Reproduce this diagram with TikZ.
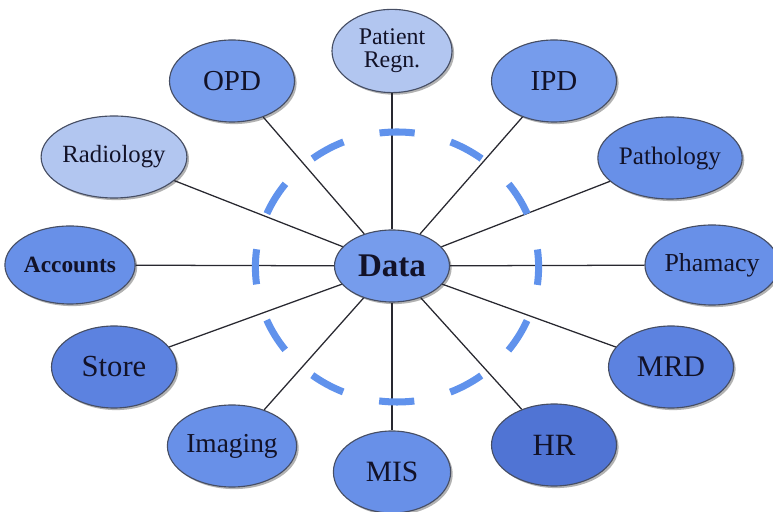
\documentclass[tikz,border=0pt]{standalone}
\usepackage{fontspec}
\setmainfont{Liberation Serif}
\usepackage{tikz}
\usetikzlibrary{
    shapes.geometric,
    shadows
}
\usepackage{xcolor}
\definecolor{lightblue}{RGB}{178,198,240}
\definecolor{midblue}{RGB}{118,156,236}
\definecolor{tintblue}{RGB}{104,144,232}
\definecolor{deepblue}{RGB}{92,130,224}
\definecolor{darkblue}{RGB}{80,116,212}
\definecolor{ringblue}{RGB}{96,146,236}
\definecolor{edgegray}{RGB}{70,78,100}
\definecolor{inkgray}{RGB}{40,40,48}
\definecolor{textnavy}{RGB}{18,18,40}

\begin{document}
\begin{tikzpicture}[
    x=1cm, y=1cm,
    dept/.style={
        ellipse, draw=edgegray, line width=0.8pt, inner sep=0pt,
        minimum width=3.125cm, minimum height=2.05cm,
        align=center, text=textnavy,
        drop shadow={shadow xshift=1.5pt, shadow yshift=-1.5pt, opacity=0.3, fill=black}
    },
    link/.style={line width=0.9pt, inkgray},
    ring/.style={ringblue, line width=5pt, dash pattern=on 0.88cm off 0.93cm, dash phase=0.44cm}
]
\useasboundingbox (0,0) rectangle (19.325,12.8);

% Hub
\node[dept, fill=midblue, minimum width=2.875cm, minimum height=1.8cm,
      font=\fontsize{23.5}{25}\selectfont\bfseries] (data) at (9.80, 6.15) {Data};

% Departments - clockwise from the top
\node[dept, fill=lightblue, minimum width=3.0cm, minimum height=2.08cm,
      font=\fontsize{17}{16.5}\selectfont] (patient) at (9.80, 11.525) {Patient\\Regn.};
\node[dept, fill=midblue, font=\fontsize{20.6}{22}\selectfont]   (ipd)       at (13.85, 10.775) {IPD};
\node[dept, fill=tintblue, font=\fontsize{17.9}{19}\selectfont]  (pathology) at (16.75, 8.85)   {Pathology};
\node[dept, fill=tintblue, minimum width=2.95cm, minimum height=2.0cm,
      font=\fontsize{18.4}{19}\selectfont] (pharmacy) at (17.80, 6.175) {Phamacy};
\node[dept, fill=deepblue, font=\fontsize{21.3}{22}\selectfont]  (mrd)       at (16.775, 3.625) {MRD};
\node[dept, fill=darkblue, font=\fontsize{22}{23}\selectfont]    (hr)        at (13.85, 1.675)  {HR};
\node[dept, fill=tintblue, minimum width=2.93cm,
      font=\fontsize{21}{22}\selectfont]   (mis)       at (9.80, 1.0)     {MIS};
\node[dept, fill=tintblue, font=\fontsize{19.5}{20}\selectfont]  (imaging)   at (5.80, 1.65)    {Imaging};
\node[dept, fill=deepblue, font=\fontsize{21.8}{22}\selectfont]  (store)     at (2.85, 3.625)   {Store};
\node[dept, fill=tintblue, minimum height=1.95cm,
      font=\fontsize{16.6}{17}\selectfont\bfseries] (accounts) at (1.75, 6.175) {Accounts};
\node[dept, fill=lightblue, font=\fontsize{17.6}{18}\selectfont] (radiology) at (2.85, 8.875)   {Radiology};
\node[dept, fill=midblue, font=\fontsize{20.6}{22}\selectfont]   (opd)       at (5.80, 10.775)  {OPD};

% Spokes
\foreach \n in {patient, ipd, pathology, pharmacy, mrd, hr, mis, imaging, store, accounts, radiology, opd} {
    \draw[link] (data) -- (\n);
}

% Dashed ring round the hub
\draw[ring] (9.925, 6.125) ellipse [x radius=3.54, y radius=3.375];

\end{tikzpicture}
\end{document}
